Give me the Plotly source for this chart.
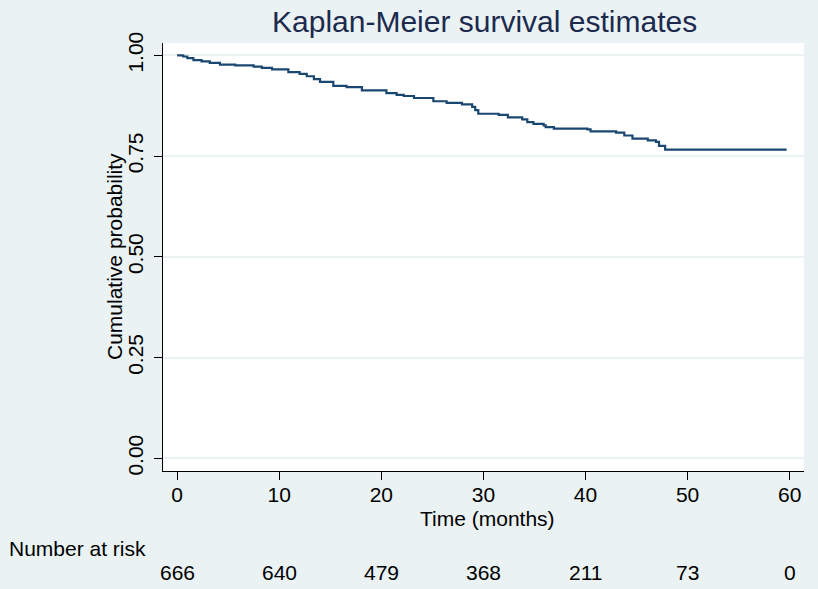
import plotly.graph_objects as go

# Kaplan-Meier step estimates
times = [0.0, 0.6, 1.0, 1.6, 2.4, 3.2, 4.2, 5.7, 7.5, 8.3, 9.3, 10.9, 12.0, 12.7,
         13.4, 14.0, 15.3, 16.6, 18.1, 20.5, 21.5, 22.2, 23.2, 25.1, 26.4, 27.9,
         28.9, 29.2, 29.5, 31.5, 32.4, 33.8, 34.3, 34.9, 35.9, 36.1, 36.9, 40.2,
         40.5, 43.0, 43.8, 44.6, 46.1, 46.9, 47.2, 47.8, 59.7]
surv = [1.000, 0.997, 0.993, 0.988, 0.985, 0.981, 0.977, 0.975, 0.972, 0.969, 0.965,
        0.958, 0.954, 0.948, 0.941, 0.934, 0.924, 0.921, 0.913, 0.906, 0.902, 0.899,
        0.894, 0.886, 0.882, 0.878, 0.872, 0.864, 0.855, 0.852, 0.846, 0.841, 0.834,
        0.830, 0.826, 0.822, 0.818, 0.816, 0.811, 0.808, 0.801, 0.793, 0.789, 0.785,
        0.775, 0.766, 0.766]

risk_times = [0, 10, 20, 30, 40, 50, 60]
risk_counts = [666, 640, 479, 368, 211, 73, 0]

y_ticks = [0, 0.25, 0.5, 0.75, 1.0]
y_ticklabels = ["0.00", "0.25", "0.50", "0.75", "1.00"]
x_ticks = [0, 10, 20, 30, 40, 50, 60]

FONT = "Liberation Sans, Arial, sans-serif"
BG = "#EAF2F3"
W, H = 818, 589
L, R, T, B = 163, 14, 43, 118
PH = H - T - B


def py(px):
    """pixel row -> paper y"""
    return (H - B - px) / PH


def pxx(px):
    return (px - L) / (W - L - R)


fig = go.Figure()
fig.add_trace(go.Scatter(x=times, y=surv, mode="lines", line_shape="hv",
                         line=dict(color="#1A476F", width=2.2), showlegend=False,
                         hoverinfo="skip"))

annotations = [
    dict(text="Kaplan-Meier survival estimates", xref="paper", yref="paper",
         x=pxx(484.5), y=py(22), xanchor="center", yanchor="middle", showarrow=False,
         font=dict(family=FONT, size=30, color="#1C2A4E")),
    dict(text="Cumulative probability", xref="paper", yref="paper",
         x=pxx(114), y=py(257), xanchor="center", yanchor="middle", showarrow=False,
         textangle=-90, font=dict(family=FONT, size=21, color="black")),
    dict(text="Time (months)", xref="paper", yref="paper",
         x=pxx(487), y=py(518), xanchor="center", yanchor="middle", showarrow=False,
         font=dict(family=FONT, size=21, color="black")),
    dict(text="Number at risk", xref="paper", yref="paper",
         x=pxx(7), y=py(548), xanchor="left", yanchor="middle", showarrow=False,
         font=dict(family=FONT, size=21, color="black")),
]
for t, n in zip(risk_times, risk_counts):
    annotations.append(dict(text=str(n), xref="x", yref="paper", x=t, y=py(572),
                            xanchor="center", yanchor="middle", showarrow=False,
                            font=dict(family=FONT, size=21, color="black")))

fig.update_layout(
    width=W, height=H,
    margin=dict(l=L, r=R, t=T, b=B, pad=0),
    paper_bgcolor=BG, plot_bgcolor="white",
    font=dict(family=FONT, size=21, color="black"),
    annotations=annotations,
    xaxis=dict(range=[-1.38, 61.4], tickvals=x_ticks, ticks="outside", ticklen=8,
               tickcolor="black", tickwidth=1, showline=True, linecolor="black",
               linewidth=1, showgrid=False, zeroline=False, ticklabelstandoff=-3,
               tickfont=dict(family=FONT, size=21, color="black")),
    yaxis=dict(range=[-0.0315, 1.0305], tickvals=y_ticks, ticktext=y_ticklabels,
               tickangle=-90, ticks="outside", ticklen=8, tickcolor="black",
               tickwidth=1, showline=True, linecolor="black", linewidth=1,
               showgrid=True, gridcolor="#EAF2F3", gridwidth=2, zeroline=False,
               ticklabelstandoff=3,
               tickfont=dict(family=FONT, size=21, color="black")),
)

fig.write_html("out.html", config={"displayModeBar": False},
               post_script="document.body.style.margin='0px';"
                           "document.body.style.overflow='hidden';")
